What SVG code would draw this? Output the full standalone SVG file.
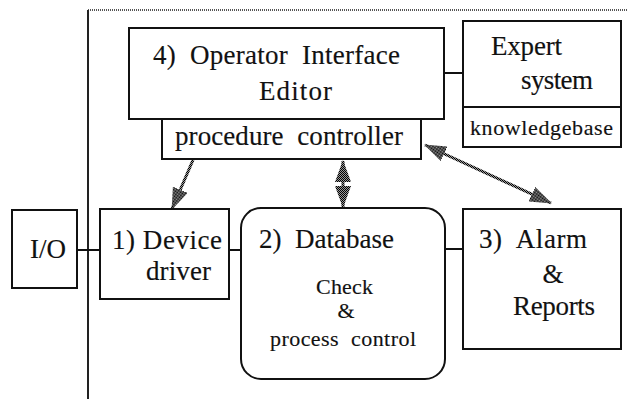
<svg xmlns="http://www.w3.org/2000/svg" width="627" height="399" viewBox="0 0 627 399">
<style>
.box{fill:#fff;stroke:#111;stroke-width:2}
.ln{stroke:#111;stroke-width:2;fill:none}
.t{font-family:"Liberation Serif","Times New Roman",serif;font-size:27px;fill:#111;stroke:#111;stroke-width:0.15}
.s{font-size:22px}
.arr{stroke:url(#dither);stroke-width:3;fill:none;marker-start:url(#ah);marker-end:url(#ah)}
</style>
<defs>
<pattern id="dither" width="2" height="2" patternUnits="userSpaceOnUse">
<rect width="2" height="2" fill="#999"/>
<rect width="1" height="1" fill="#000"/>
<rect x="1" y="1" width="1" height="1" fill="#000"/>
</pattern>
<marker id="ah" viewBox="0 0 22 16" refX="21" refY="8" markerWidth="22" markerHeight="16" markerUnits="userSpaceOnUse" orient="auto-start-reverse">
<path d="M0,0 L22,8 L0,16 z" fill="url(#dither)"/>
</marker>
</defs>
<rect width="627" height="399" fill="#fff"/>
<g id="frame">
<line x1="88" y1="10" x2="627" y2="10" stroke="#555" stroke-width="2" stroke-dasharray="1 1"/>
<line x1="88" y1="10" x2="88" y2="399" stroke="#222" stroke-width="2"/>
</g>
<g id="connectors">
<line class="ln" x1="77" y1="250" x2="100" y2="250"/>
<line class="ln" x1="229" y1="250" x2="241" y2="250"/>
<line class="ln" x1="445" y1="249" x2="463" y2="249"/>
<line class="ln" x1="444" y1="73" x2="463" y2="73"/>
<line class="arr" x1="193" y1="160" x2="172" y2="209" style="marker-start:none"/>
<line class="arr" x1="343" y1="161" x2="343" y2="207"/>
<line class="arr" x1="425" y1="145" x2="551" y2="203"/>
</g>
<g id="operator">
<rect class="box" x="129" y="28" width="315" height="91"/>
<text class="t" x="153" y="64" textLength="247" xml:space="preserve">4)  Operator  Interface</text>
<text class="t" x="259" y="100" textLength="73">Editor</text>
</g>
<g id="procedure">
<rect class="box" x="162" y="119" width="259" height="40"/>
<text class="t" x="175" y="145" textLength="228" xml:space="preserve">procedure  controller</text>
</g>
<g id="expert">
<rect class="box" x="463" y="21" width="158" height="126"/>
<line class="ln" x1="463" y1="107" x2="621" y2="107"/>
<text class="t" x="491" y="55" textLength="71">Expert</text>
<text class="t" x="521" y="89" textLength="72">system</text>
<text class="t s" x="470" y="135" textLength="143">knowledgebase</text>
</g>
<g id="io">
<rect class="box" x="12" y="210" width="65" height="78"/>
<text class="t" x="30" y="258" textLength="36">I/O</text>
</g>
<g id="device">
<rect class="box" x="100" y="209" width="129" height="90"/>
<text class="t" x="112" y="249" textLength="110">1) Device</text>
<text class="t" x="146" y="280" textLength="65">driver</text>
</g>
<g id="database">
<rect class="box" x="241" y="208" width="204" height="171" rx="20" ry="20"/>
<text class="t" x="259" y="248" textLength="135" xml:space="preserve">2)  Database</text>
<text class="t s" x="316" y="294" textLength="57">Check</text>
<text class="t s" x="346" y="318" text-anchor="middle">&amp;</text>
<text class="t s" x="270" y="346" textLength="146" xml:space="preserve">process  control</text>
</g>
<g id="alarm">
<rect class="box" x="463" y="209" width="158" height="140"/>
<text class="t" x="479" y="248" textLength="108" xml:space="preserve">3)  Alarm</text>
<text class="t" x="553" y="283" text-anchor="middle">&amp;</text>
<text class="t" x="513" y="315" textLength="82">Reports</text>
</g>
</svg>
